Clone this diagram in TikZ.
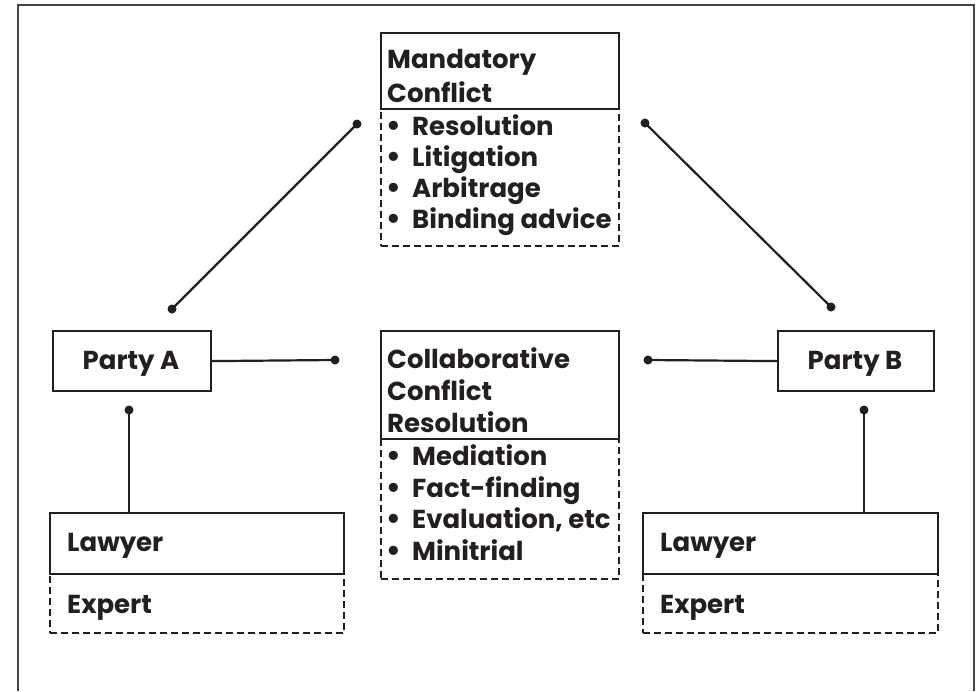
\documentclass[tikz,border=0pt]{standalone}
\usepackage{fontspec}
\setmainfont{Poppins}
\newfontfamily\bulfont{DejaVu Sans}
\definecolor{ink}{HTML}{231F20}
\begin{document}
\begin{tikzpicture}[x=1pt,y=-1pt,
  solidbox/.style={draw=ink, line width=2.2pt, inner sep=0pt, anchor=north west, fill=white},
  dashbox/.style={draw=ink, line width=2.4pt, inner sep=0pt, anchor=north west, dash pattern=on 7pt off 4pt},
  conn/.style={draw=ink, line width=2.2pt},
  dotnode/.style={circle, fill=ink, inner sep=0pt, minimum size=9pt},
  lbl/.style={anchor=base west, inner sep=0pt, text=ink, font=\fontsize{26}{30}\selectfont\bfseries},
  clbl/.style={anchor=base, inner sep=0pt, text=ink, font=\fontsize{26}{30}\selectfont\bfseries}
]
\useasboundingbox (0,0) rectangle (980,691);
\fill[white] (0,0) rectangle (980,691);
% frame
\draw[ink!85, line width=1.5pt] (18,691) -- (18,5) -- (974,5) -- (974,691);

\newcommand{\bul}{\makebox[25pt][l]{\hspace*{-2pt}{\bulfont\bfseries •}}}

% Mandatory box
\node[dashbox, minimum width=238pt, minimum height=137pt] (mandd) at (380,108) {};
\node[solidbox, minimum width=238pt, minimum height=76pt] (mand) at (380,32) {};
\node[lbl] (m1) at (387,68) {Mandatory};
\node[lbl] (m2) at (387,102) {Conflict};
\node[lbl] (m3) at (387,135) {\bul Resolution};
\node[lbl] (m4) at (387,166) {\bul Litigation};
\node[lbl] (m5) at (387,197) {\bul Arbitrage};
\node[lbl] (m6) at (387,228) {\bul Binding advice};

% Collaborative box
\node[dashbox, minimum width=238pt, minimum height=140pt] (colld) at (380,438) {};
\node[solidbox, minimum width=238pt, minimum height=108pt] (coll) at (380,330) {};
\node[lbl] (c1) at (387,368) {Collaborative};
\node[lbl] (c2) at (387,400) {Conflict};
\node[lbl] (c3) at (387,432) {Resolution};
\node[lbl] (c4) at (387,465) {\bul Mediation};
\node[lbl] (c5) at (387,497) {\bul Fact-finding};
\node[lbl] (c6) at (387,528) {\bul Evaluation, etc};
\node[lbl] (c7) at (387,560) {\bul Minitrial};

% Parties
\node[solidbox, minimum width=158pt, minimum height=60pt] (pa) at (52,330) {};
\node[clbl] (patext) at (131,369) {Party A};
\node[solidbox, minimum width=156pt, minimum height=60pt] (pb) at (777,330) {};
\node[clbl] (pbtext) at (855,369) {Party B};

% Lawyer / Expert boxes
\node[dashbox, minimum width=294pt, minimum height=59pt] (lad) at (49,573) {};
\node[solidbox, minimum width=294pt, minimum height=61pt] (la) at (49,512) {};
\node[lbl] (latext) at (67,551) {Lawyer};
\node[lbl] (eatext) at (67,613) {Expert};

\node[dashbox, minimum width=295pt, minimum height=59pt] (lbd) at (642,573) {};
\node[solidbox, minimum width=295pt, minimum height=61pt] (lb) at (642,512) {};
\node[lbl] (lbtext) at (660,551) {Lawyer};
\node[lbl] (ebtext) at (660,613) {Expert};

% dots
\node[dotnode] (dmA) at (357,124) {};
\node[dotnode] (dpA) at (172,309) {};
\node[dotnode] (dmB) at (645,123) {};
\node[dotnode] (dpB) at (831,307) {};
\node[dotnode] (dhA) at (335,360) {};
\node[dotnode] (dhB) at (648,360) {};
\node[dotnode] (dvA) at (129,410) {};
\node[dotnode] (dvB) at (864,410) {};

% connectors
\draw[conn] (dpA.center) -- (dmA.center);
\draw[conn] (dmB.center) -- (dpB.center);
\draw[conn] (pa.east) -- (dhA.center);
\draw[conn] (dhB.center) -- (pb.west);
\draw[conn] (dvA.center) -- (dvA |- la.north);
\draw[conn] (dvB.center) -- (dvB |- lb.north);
\end{tikzpicture}
\end{document}
